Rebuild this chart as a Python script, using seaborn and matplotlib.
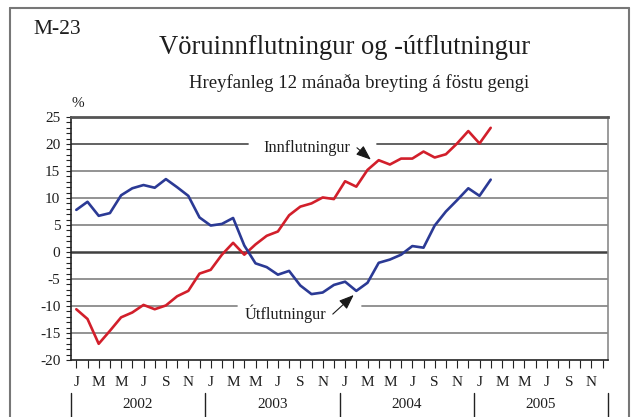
import matplotlib
matplotlib.use("Agg")
import matplotlib.pyplot as plt
import matplotlib.transforms as mtransforms
from matplotlib.lines import Line2D
import numpy as np
import pandas as pd
import seaborn as sns

# ---- data (12-month moving change, %), Jan 2002 - Feb 2005 ----
innflutningur = [-10.6, -12.4, -17.0, -14.6, -12.1, -11.2, -9.8, -10.6, -9.9, -8.2,
                 -7.2, -4.0, -3.3, -0.5, 1.7, -0.5, 1.4, 3.0, 3.8, 6.8,
                 8.4, 9.0, 10.1, 9.8, 13.1, 12.1, 15.2, 17.0, 16.2, 17.3,
                 17.3, 18.6, 17.5, 18.1, 20.1, 22.4, 20.1, 23.0]
utflutningur = [7.8, 9.3, 6.7, 7.2, 10.5, 11.8, 12.4, 11.9, 13.5, 12.0,
                10.4, 6.4, 4.9, 5.2, 6.3, 1.2, -2.1, -2.8, -4.2, -3.5,
                -6.2, -7.8, -7.5, -6.1, -5.5, -7.2, -5.7, -2.0, -1.4, -0.5,
                1.1, 0.8, 4.9, 7.5, 9.6, 11.8, 10.4, 13.4]
month_letters = ["J", "F", "M", "A", "M", "J", "J", "Á", "S", "O", "N", "D"]
years = ["2002", "2003", "2004", "2005"]
y_ticks = [25, 20, 15, 10, 5, 0, -5, -10, -15, -20]

n = len(innflutningur)
df = pd.DataFrame({
    "idx": list(range(n)) * 2,
    "val": innflutningur + utflutningur,
    "series": ["Innflutningur"] * n + ["Útflutningur"] * n,
})

sns.set_style("white")
plt.rcParams["font.family"] = ["Liberation Serif", "DejaVu Serif"]

W, H = 635, 417
fig = plt.figure(figsize=(W / 100, H / 100), dpi=100)
ax = fig.add_axes([70.7 / W, (H - 360) / H, 537.6 / W, 243 / H])

RED = "#d21f2b"
BLUE = "#2b3a95"
TXT = "#1e1e1e"

# gridlines (drawn first, with gaps for labels)
grid_c = "#8a8a8a"
for yv in [5, 10, 15, -5, -15]:
    ax.axhline(yv, color=grid_c, lw=1.3, zorder=1)
# 20 line with gap
ax.axhline(20, xmin=0, xmax=(248 - 70.7) / 537.6, color="#555555", lw=1.3, zorder=1)
ax.axhline(20, xmin=(377 - 70.7) / 537.6, xmax=1, color="#555555", lw=1.3, zorder=1)
# -10 line with gap
ax.axhline(-10, xmin=0, xmax=(237 - 70.7) / 537.6, color=grid_c, lw=1.3, zorder=1)
ax.axhline(-10, xmin=(362 - 70.7) / 537.6, xmax=1, color=grid_c, lw=1.3, zorder=1)
ax.axhline(0, color="#404040", lw=1.8, zorder=1)

sns.lineplot(data=df, x="idx", y="val", hue="series",
             palette={"Innflutningur": RED, "Útflutningur": BLUE},
             linewidth=1.9, legend=False, ax=ax, zorder=3)

ax.set_xlim(-0.5, 47.5)
ax.set_ylim(-20, 25)
ax.set_xlabel("")
ax.set_ylabel("")

# x ticks: each month, labels every second month
ax.set_xticks(range(48))
ax.set_xticklabels([month_letters[i % 12] if i % 2 == 0 else "" for i in range(48)],
                   fontsize=11, color=TXT)
ax.tick_params(axis="x", direction="out", length=5.5, width=0.8, color="#222222",
               pad=6, bottom=True)
# y ticks
ax.set_yticks(y_ticks)
ax.set_yticklabels([str(v) for v in y_ticks], fontsize=11, color=TXT)
ax.set_yticks(range(-20, 26), minor=True)
ax.tick_params(axis="y", which="both", direction="out", length=3.5, width=0.8,
               color="#222222", pad=4, left=True)

for side, c, lw in [("left", "#222222", 1.2), ("bottom", "#222222", 1.2),
                    ("top", "#555555", 2.0), ("right", "#8a8a8a", 1.2)]:
    ax.spines[side].set_color(c)
    ax.spines[side].set_linewidth(lw)
    ax.spines[side].set_visible(True)

# year labels and separators
trans = mtransforms.blended_transform_factory(ax.transData, ax.transAxes)
for k, yr in enumerate(years):
    ax.text(k * 12 + 5.5, -0.185, yr, transform=trans, ha="center", va="center",
            fontsize=11, color=TXT, clip_on=False)
for k in range(5):
    ax.add_line(Line2D([k * 12 - 0.5, k * 12 - 0.5], [-0.136, -0.24], transform=trans,
                       color="#222222", lw=1.0, clip_on=False))

# "%" label
ax.text(0.1, 1.055, "%", transform=trans, ha="center", va="center", fontsize=11, color=TXT)

# series labels with arrows
ax.text(16.7, 19.3, "Innflutningur", ha="left", va="center", fontsize=11.7, color=TXT)
ax.annotate("", xy=(26.3, 17.1), xytext=(25.06, 19.3),
            arrowprops=dict(arrowstyle="-|>,head_length=0.9,head_width=0.35",
                            color="#1a1a1a", lw=0.8, shrinkA=0, shrinkB=0))
ax.text(15.06, -11.5, "Útflutningur", ha="left", va="center", fontsize=11.7, color=TXT)
ax.annotate("", xy=(24.77, -7.96), xytext=(22.9, -11.5),
            arrowprops=dict(arrowstyle="-|>,head_length=0.9,head_width=0.35",
                            color="#1a1a1a", lw=0.8, shrinkA=0, shrinkB=0))

# titles
fig.text(33 / W, 1 - 30 / H, "M-23", ha="left", va="center", fontsize=15.5, color=TXT)
fig.text(345 / W, 1 - 48 / H, "Vöruinnflutningur og -útflutningur", ha="center",
         va="center", fontsize=19.2, color=TXT)
fig.text(359 / W, 1 - 83 / H, "Hreyfanleg 12 mánaða breyting á föstu gengi",
         ha="center", va="center", fontsize=13.5, color=TXT)

# outer frame
fig.add_artist(Line2D([10 / W, 10 / W], [0, 1 - 8 / H], transform=fig.transFigure,
                      color="#777777", lw=1.5))
fig.add_artist(Line2D([10 / W, 629 / W], [1 - 8 / H, 1 - 8 / H], transform=fig.transFigure,
                      color="#777777", lw=1.5))
fig.add_artist(Line2D([629 / W, 629 / W], [0, 1 - 8 / H], transform=fig.transFigure,
                      color="#777777", lw=1.5))

fig.savefig("out.png", dpi=100)
